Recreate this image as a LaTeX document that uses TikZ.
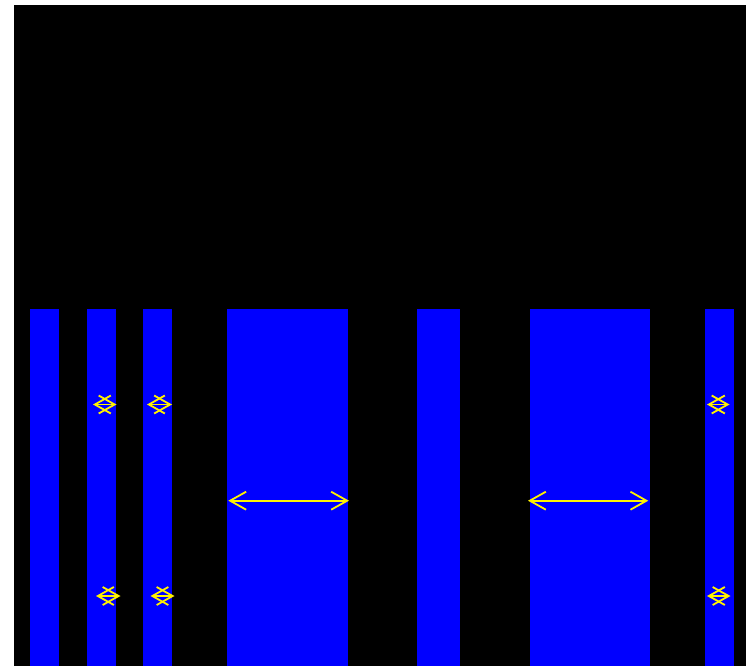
\documentclass[tikz,border=0pt]{standalone}
\usetikzlibrary{arrows.meta}
\tikzset{
  bgbox/.style={fill=black},
  bar/.style={fill=blue},
  barb/.tip={Straight Barb[length=16pt,width=18pt]},
  gap/.style={barb-barb,yellow,line width=1.8pt},
}
\begin{document}
\begin{tikzpicture}[x=1pt,y=-1pt]
  \useasboundingbox (0,0) rectangle (746,666);
  \fill[bgbox] (14,5) rectangle (746,666);
  % bars
  \foreach \l/\r in {30/59, 87/116, 143/172, 227/348, 417/459.5, 529.5/650, 705/734}{
    \fill[bar] (\l,308.5) rectangle (\r,666);
  }
  % gap arrows
  \foreach \n/\xa/\xb/\yy in {u1/93/116.5/404.5, u2/147/172/404.5, u3/707/729.5/404.5,
      d1/96/120.5/596, d2/150.5/174.5/596, d3/707/730.5/596,
      m1/228.3/349/500.7, m2/528/648.3/500.7}{
    \coordinate (\n a) at (\xa,\yy);
    \coordinate (\n b) at (\xb,\yy);
    \draw[gap] (\n a) -- (\n b);
  }
\end{tikzpicture}
\end{document}
